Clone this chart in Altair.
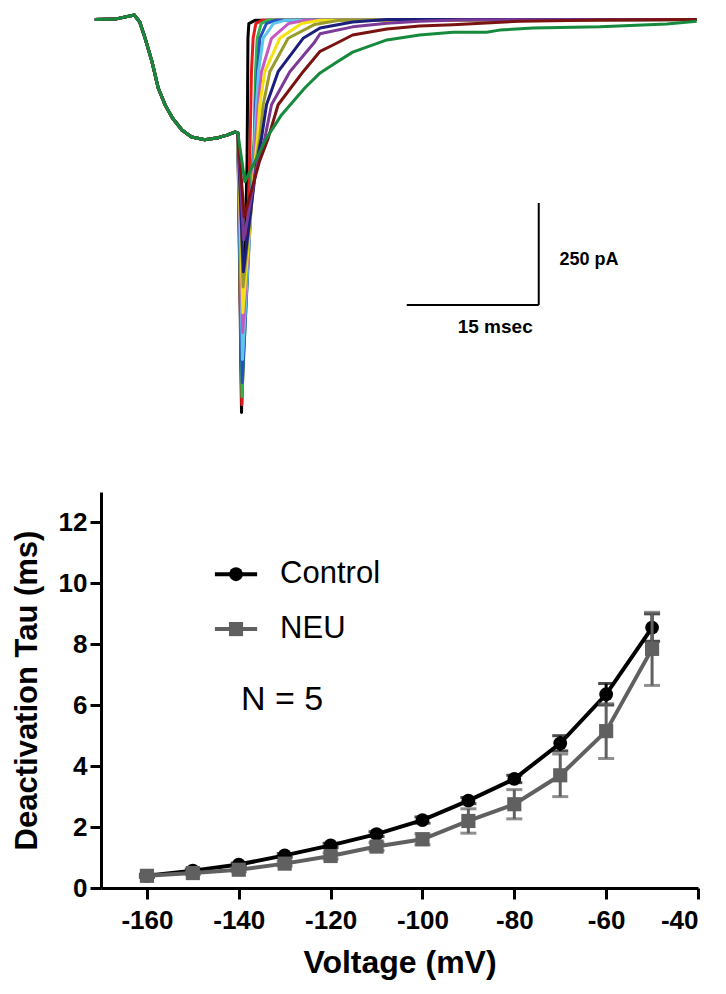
import altair as alt
import pandas as pd

FONT = "Liberation Sans"

# ---------------- top panel: current traces (t in ms, I in pA) ----------------
pre_t = [0, 2.3, 4.5, 5.1, 5.7, 6.5, 7.2, 8.0, 8.8, 9.9, 11.0, 12.5, 14.0, 15.1, 15.9, 16.25]
pre_i = [0, 1, 11, -6, -45, -104, -168, -210, -241, -271, -288, -295, -290, -283, -276, -278]

trace_names = ["black", "red", "green", "blue", "cyan", "magenta", "yellow",
               "olive", "navy", "purple", "maroon", "darkgreen"]
trace_colors = ["#000000", "#e41a1c", "#2fb34a", "#2750c0", "#5ec6ea", "#c45ac0",
                "#f4e20f", "#999a2c", "#1b1f7c", "#7b3a98", "#7a1212", "#168a3c"]

rec_t = {
    "black":     [16.67, 17.3, 17.35, 17.4, 17.5, 18.2, 68.4],
    "red":       [16.7, 17.6, 17.73, 17.8, 17.99, 18.3, 19.0, 68.4],
    "green":     [16.72, 17.9, 18.11, 18.18, 18.26, 18.45, 18.9, 19.6, 68.4],
    "blue":      [16.75, 18.0, 18.2, 18.26, 18.49, 18.75, 19.5, 20.5, 68.4],
    "cyan":      [16.78, 18.05, 18.18, 18.37, 18.6, 19.13, 20.3, 21.6, 68.4],
    "magenta":   [16.8, 18.1, 18.3, 18.56, 18.94, 20.08, 22.0, 23.9, 68.4],
    "yellow":    [16.82, 18.2, 18.49, 18.75, 19.32, 21.02, 23.5, 25.6, 68.4],
    "olive":     [16.85, 18.3, 18.75, 19.13, 19.89, 21.97, 25.0, 27.8, 68.4],
    "navy":      [16.88, 18.4, 18.94, 19.51, 20.83, 23.67, 25.6, 29.3, 33.2, 68.4],
    "purple":    [16.92, 18.5, 19.32, 20.08, 22.16, 24.99, 25.6, 29.3, 33.2, 36.9, 41.5, 68.4],
    "maroon":    [16.98, 18.7, 19.7, 20.83, 23.67, 25.6, 27.3, 29.3, 33.2, 36.9, 40.7, 48.3, 57.4, 68.4],
    "darkgreen": [17.05, 18.18, 19.51, 21.21, 23.86, 25.6, 27.3, 29.3, 33.2, 36.9, 40.7, 44.5, 46.0,
                  49.8, 57.4, 65.0, 68.4],
}
rec_i = {
    "black":     [-964, -349, -209, -46, -10, -2, 0],
    "red":       [-945, -349, -209, -128, -46, -10, -2, 0],
    "green":     [-925, -349, -291, -209, -128, -46, -10, -2, 0],
    "blue":      [-891, -349, -291, -209, -128, -46, -10, -2, 0],
    "cyan":      [-834, -349, -291, -209, -128, -46, -10, -2, 0],
    "magenta":   [-768, -349, -291, -209, -128, -46, -10, -2, 0],
    "yellow":    [-719, -349, -291, -209, -128, -46, -10, -2, 0],
    "olive":     [-656, -349, -291, -209, -128, -46, -12, -2, 0],
    "navy":      [-619, -349, -291, -209, -128, -46, -21, -6, 0, 0],
    "purple":    [-540, -349, -291, -209, -128, -55, -35, -18, -9, -4, -1, 0],
    "maroon":    [-484, -349, -291, -209, -128, -78, -60, -38, -23, -16, -13, -4, -1, 0],
    "darkgreen": [-398, -349, -291, -234, -168, -131, -107, -80, -50, -38, -31, -31, -26,
                  -21, -18, -11, -4],
}

bar_t1 = [35.45, 50.45]
bar_t2 = [50.45, 50.45]
bar_i1 = [-700, -700]
bar_i2 = [-700, -450]

rows = []
for k, name in enumerate(trace_names):
    ts = pre_t + rec_t[name]
    vs = pre_i + rec_i[name]
    for j, (t, v) in enumerate(zip(ts, vs)):
        rows.append({"trace": name, "k": k, "seq": j, "t": t, "I": v})
traces_df = pd.DataFrame(rows)

t_scale = alt.Scale(domain=[0.7, 68.55], nice=False, zero=False)
i_scale = alt.Scale(domain=[-975, 16], nice=False, zero=False)

trace_lines = alt.Chart(traces_df).mark_line(strokeWidth=3, strokeJoin="round").encode(
    x=alt.X("t:Q", scale=t_scale, axis=None),
    y=alt.Y("I:Q", scale=i_scale, axis=None),
    color=alt.Color("trace:N", scale=alt.Scale(domain=trace_names, range=trace_colors), legend=None),
    detail="trace:N",
    order="seq:Q",
)

bars_df = pd.DataFrame({"t1": bar_t1, "t2": bar_t2, "i1": bar_i1, "i2": bar_i2})
scale_bars = alt.Chart(bars_df).mark_rule(color="black", strokeWidth=2).encode(
    x=alt.X("t1:Q", scale=t_scale, axis=None), x2="t2:Q",
    y=alt.Y("i1:Q", scale=i_scale, axis=None), y2="i2:Q",
)

sb_text_df = pd.DataFrame({"t": [52.8, 45.5], "I": [-589, -754], "txt": ["250 pA", "15 msec"]})
sb_text_pa = alt.Chart(sb_text_df.iloc[[0]]).mark_text(
    font=FONT, fontWeight="bold", fontSize=18, align="left", baseline="middle", color="black"
).encode(x=alt.X("t:Q", scale=t_scale, axis=None), y=alt.Y("I:Q", scale=i_scale, axis=None), text="txt:N")
sb_text_ms = alt.Chart(sb_text_df.iloc[[1]]).mark_text(
    font=FONT, fontWeight="bold", fontSize=19, align="center", baseline="middle", color="black"
).encode(x=alt.X("t:Q", scale=t_scale, axis=None), y=alt.Y("I:Q", scale=i_scale, axis=None), text="txt:N")

top = alt.layer(trace_lines, scale_bars, sb_text_pa, sb_text_ms).properties(width=597, height=404)

# ---------------- bottom panel: deactivation tau ----------------
voltage = [-160, -150, -140, -130, -120, -110, -100, -90, -80, -70, -60, -50]
ctrl = [0.40, 0.57, 0.77, 1.07, 1.40, 1.77, 2.23, 2.87, 3.58, 4.75, 6.36, 8.55]
ctrl_sem = [0.05, 0.05, 0.05, 0.06, 0.07, 0.08, 0.10, 0.10, 0.12, 0.25, 0.35, 0.45]
neu = [0.40, 0.49, 0.60, 0.80, 1.05, 1.36, 1.60, 2.20, 2.75, 3.70, 5.15, 7.85]
neu_sem = [0.05, 0.05, 0.07, 0.08, 0.10, 0.13, 0.18, 0.40, 0.48, 0.70, 0.90, 1.20]

ctrl_df = pd.DataFrame({"v": voltage, "tau": ctrl,
                        "lo": [a - b for a, b in zip(ctrl, ctrl_sem)],
                        "hi": [a + b for a, b in zip(ctrl, ctrl_sem)]})
neu_df = pd.DataFrame({"v": voltage, "tau": neu,
                       "lo": [a - b for a, b in zip(neu, neu_sem)],
                       "hi": [a + b for a, b in zip(neu, neu_sem)]})

CTRL_COLOR = "#000000"
NEU_COLOR = "#606060"

x_scale = alt.Scale(domain=[-170, -40], nice=False, zero=False)
y_scale = alt.Scale(domain=[0, 13], nice=False)

x_axis = alt.Axis(values=[-160, -140, -120, -100, -80, -60, -40], labelExpr="datum.value + ''",
                  title="Voltage (mV)", grid=False, tickSize=11, tickWidth=3, domainWidth=3,
                  labelPadding=8, titlePadding=14, labelFontSize=26, titleFontSize=32)
y_axis = alt.Axis(values=[0, 2, 4, 6, 8, 10, 12], title="Deactivation Tau (ms)", grid=False,
                  tickSize=11, tickWidth=3, domainWidth=3, labelPadding=3, titlePadding=15,
                  labelFontSize=26, titleFontSize=31)


def X(field):
    return alt.X(field, scale=x_scale, axis=x_axis)


def Y(field):
    return alt.Y(field, scale=y_scale, axis=y_axis)


def series(df, color, shape, size):
    base = alt.Chart(df)
    line = base.mark_line(color=color, strokeWidth=4).encode(x=X("v:Q"), y=Y("tau:Q"))
    err = base.mark_rule(color=color, strokeWidth=3).encode(x=X("v:Q"), y=Y("lo:Q"), y2="hi:Q")
    cap_hi = base.mark_tick(color=color, orient="horizontal", size=16, thickness=3).encode(
        x=X("v:Q"), y=Y("hi:Q"))
    cap_lo = base.mark_tick(color=color, orient="horizontal", size=16, thickness=3).encode(
        x=X("v:Q"), y=Y("lo:Q"))
    pts = base.mark_point(color=color, shape=shape, filled=True, opacity=1, size=size).encode(
        x=X("v:Q"), y=Y("tau:Q"))
    return [line, err, cap_hi, cap_lo, pts]


layers = series(ctrl_df, CTRL_COLOR, "circle", 190) + series(neu_df, NEU_COLOR, "square", 200)

# legend (positions in axis units)
LEG_X1, LEG_X2, LEG_XM, LEG_TX = -145.2, -136.0, -140.6, -131.0
CTRL_Y, NEU_Y = 10.3, 8.5
N_X, N_Y = -139.5, 6.17

leg_df = pd.DataFrame({"x1": [LEG_X1, LEG_X1], "x2": [LEG_X2, LEG_X2], "xm": [LEG_XM, LEG_XM],
                       "tx": [LEG_TX, LEG_TX], "y": [CTRL_Y, NEU_Y], "label": ["Control", "NEU"]})
for idx, (color, shape, size) in enumerate([(CTRL_COLOR, "circle", 190), (NEU_COLOR, "square", 200)]):
    d = leg_df.iloc[[idx]]
    layers.append(alt.Chart(d).mark_rule(color=color, strokeWidth=4).encode(
        x=X("x1:Q"), x2="x2:Q", y=Y("y:Q")))
    layers.append(alt.Chart(d).mark_point(color=color, shape=shape, filled=True, opacity=1, size=size).encode(
        x=X("xm:Q"), y=Y("y:Q")))
    layers.append(alt.Chart(d).mark_text(font=FONT, fontSize=31, align="left", baseline="middle",
                                         color="black").encode(
        x=X("tx:Q"), y=Y("y:Q"), text="label:N"))

n_df = pd.DataFrame({"x": [N_X], "y": [N_Y], "label": ["N = 5"]})
layers.append(alt.Chart(n_df).mark_text(font=FONT, fontSize=34, align="left", baseline="middle",
                                        color="black").encode(
    x=X("x:Q"), y=Y("y:Q"), text="label:N"))

bottom = alt.layer(*layers).properties(width=597, height=396)

chart = alt.vconcat(top, bottom, spacing=75).properties(
    padding={"left": 3, "top": 5, "right": 5, "bottom": 2}
).configure_view(stroke=None).configure_axis(
    labelFont=FONT, titleFont=FONT, labelFontWeight="bold", titleFontWeight="bold",
    labelColor="black", titleColor="black", tickColor="black", domainColor="black",
)

chart.save("out.html", embed_options={"renderer": "svg", "actions": False})
